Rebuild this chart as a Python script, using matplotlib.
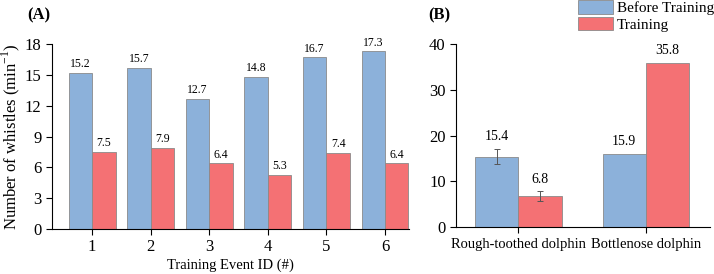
import matplotlib
matplotlib.use("Agg")
import matplotlib.pyplot as plt
import numpy as np
from matplotlib.patches import Patch

plt.rcParams['font.family'] = ['Liberation Serif', 'DejaVu Serif']

events = [1, 2, 3, 4, 5, 6]
before_a = [15.2, 15.7, 12.7, 14.8, 16.7, 17.3]
train_a = [7.5, 7.9, 6.4, 5.3, 7.4, 6.4]

species = ["Rough-toothed dolphin", "Bottlenose dolphin"]
before_b = [15.4, 15.9]
train_b = [6.8, 35.8]
before_b_err = [1.65, 0]
train_b_err = [1.0, 0]

blue = '#8cb1da'
red = '#f47174'
edge = '#8a8a8a'

fig = plt.figure(figsize=(7.14, 2.74), dpi=100)
axA = fig.add_axes([0.0728, 0.164, 0.5, 0.675])
axB = fig.add_axes([0.6387, 0.171, 0.355, 0.668])

w = 0.4
x = np.array(events, dtype=float)
axA.bar(x - w/2, before_a, w, color=blue, edgecolor=edge, linewidth=0.6)
axA.bar(x + w/2, train_a, w, color=red, edgecolor=edge, linewidth=0.6)
for xi, v in zip(x - w/2, before_a):
    axA.text(xi, v + 0.25, f"{v}", ha='center', va='bottom', fontsize=8.5)
for xi, v in zip(x + w/2, train_a):
    axA.text(xi, v + 0.25, f"{v}", ha='center', va='bottom', fontsize=8.5)
axA.set_xlim(0.315, 6.41)
axA.set_ylim(0, 18)
axA.set_yticks([0, 3, 6, 9, 12, 15, 18])
axA.set_xticks(events)
axA.tick_params(labelsize=12, length=4, width=0.8)
axA.spines['top'].set_visible(False)
axA.spines['right'].set_visible(False)
axA.set_ylabel("Number of whistles (min$^{\\mathregular{-1}}$)", fontsize=12, labelpad=2)
axA.set_xlabel("Training Event ID (#)", fontsize=10.5, labelpad=2)
fig.text(0.038, 0.945, "(A)", fontsize=12, fontweight='bold', va='center')

wb = 0.34
xb = np.arange(len(species), dtype=float)
ekw = dict(ecolor='#555555', elinewidth=0.7, capsize=2, capthick=0.7)
axB.bar(xb - wb/2, before_b, wb, color=blue, edgecolor=edge, linewidth=0.6,
        yerr=[e if e > 0 else np.nan for e in before_b_err], error_kw=ekw)
axB.bar(xb + wb/2, train_b, wb, color=red, edgecolor=edge, linewidth=0.6,
        yerr=[e if e > 0 else np.nan for e in train_b_err], error_kw=ekw)
for xi, v, e in zip(xb - wb/2, before_b, before_b_err):
    axB.text(xi, v + e + 1.3, f"{v}", ha='center', va='bottom', fontsize=10)
for xi, v, e in zip(xb + wb/2, train_b, train_b_err):
    axB.text(xi, v + e + 1.3, f"{v}", ha='center', va='bottom', fontsize=10)
axB.set_xlim(-0.49, 1.5)
axB.set_ylim(0, 40)
axB.set_yticks([0, 10, 20, 30, 40])
axB.set_xticks(xb)
axB.set_xticklabels(species)
axB.tick_params(axis='y', labelsize=12, length=4, width=0.8)
axB.tick_params(axis='x', labelsize=10.5, length=4, width=0.8)
axB.spines['top'].set_visible(False)
axB.spines['right'].set_visible(False)
fig.text(0.6, 0.945, "(B)", fontsize=12, fontweight='bold', va='center')

handles = [Patch(facecolor=blue, edgecolor=edge, linewidth=0.6, label='Before Training'),
           Patch(facecolor=red, edgecolor=edge, linewidth=0.6, label='Training')]
fig.legend(handles=handles, loc='upper left', bbox_to_anchor=(0.807, 1.005), frameon=False,
           fontsize=11, handlelength=2.3, handleheight=1.0, handletextpad=0.25,
           labelspacing=0.1, borderaxespad=0, borderpad=0.1)

fig.savefig("out.png", dpi=100)
